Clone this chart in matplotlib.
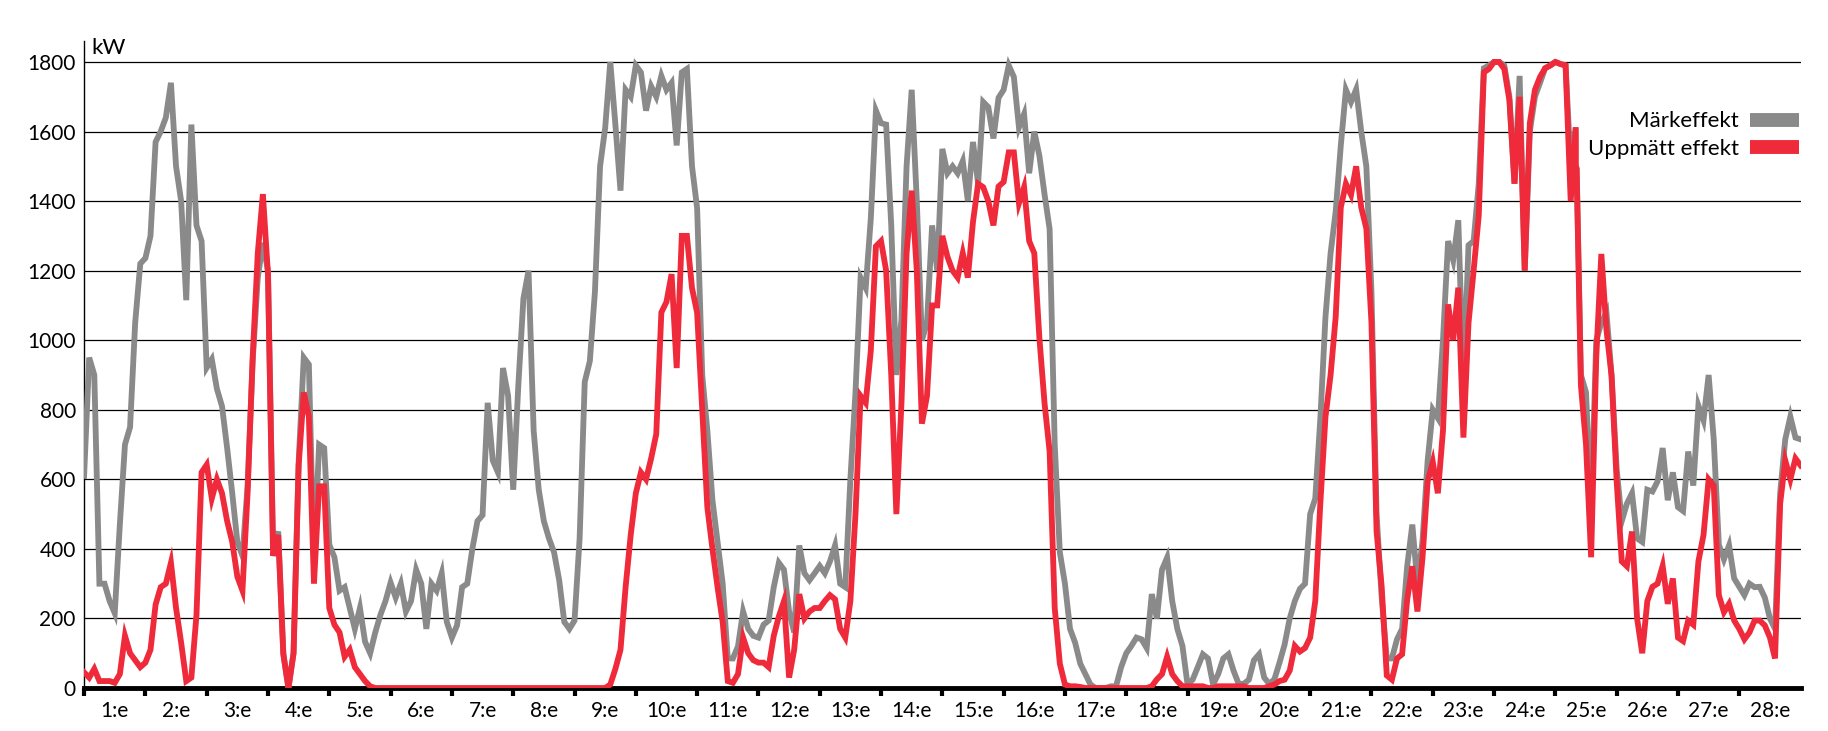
import numpy as np
import matplotlib
matplotlib.use('Agg')
import matplotlib.pyplot as plt
from matplotlib.lines import Line2D

plt.rcParams['font.family'] = ['Lato', 'DejaVu Sans']

# 12 readings per day (every 2 hours), 28 days + closing value
maerkeffekt = [
    610, 950, 900, 300, 300, 250, 215, 470, 700, 750, 1050, 1220,
    1236, 1300, 1570, 1600, 1640, 1740, 1500, 1400, 1115, 1620, 1330, 1285,
    921, 945, 860, 810, 690, 560, 420, 380, 580, 940, 1180, 1280,
    1200, 400, 450, 100, 0, 100, 650, 950, 930, 350, 700, 690,
    412, 376, 280, 290, 230, 170, 230, 133, 100, 160, 210, 250,
    303, 260, 300, 220, 250, 340, 300, 170, 300, 280, 330, 190,
    145, 180, 290, 300, 400, 480, 497, 820, 654, 620, 920, 840,
    570, 870, 1120, 1200, 740, 570, 480, 430, 390, 310, 190, 170,
    194, 430, 880, 940, 1140, 1500, 1610, 1800, 1620, 1430, 1720, 1700,
    1790, 1770, 1660, 1730, 1700, 1760, 1720, 1740, 1560, 1770, 1780, 1500,
    1380, 900, 740, 540, 420, 300, 85, 85, 120, 220, 170, 150,
    145, 182, 194, 290, 360, 340, 220, 160, 410, 330, 310, 330,
    351, 330, 364, 410, 300, 290, 600, 850, 1180, 1150, 1350, 1660,
    1624, 1620, 1330, 900, 1060, 1500, 1720, 1400, 1000, 1050, 1330, 1200,
    1550, 1480, 1500, 1480, 1515, 1400, 1570, 1450, 1685, 1670, 1580, 1697,
    1720, 1790, 1757, 1612, 1650, 1480, 1600, 1530, 1420, 1320, 700, 390,
    300, 170, 130, 70, 40, 10, 0, 0, 0, 5, 5, 60,
    100, 121, 145, 140, 115, 270, 200, 340, 375, 250, 170, 121,
    10, 24, 60, 97, 85, 10, 40, 85, 97, 50, 12, 12,
    24, 80, 97, 30, 12, 25, 73, 125, 200, 250, 285, 300,
    500, 545, 776, 1067, 1250, 1370, 1560, 1720, 1685, 1721, 1600, 1500,
    1139, 500, 260, 85, 85, 140, 170, 351, 470, 300, 424, 654,
    800, 776, 1000, 1285, 1230, 1345, 873, 1273, 1285, 1450, 1782, 1790,
    1800, 1800, 1790, 1700, 1450, 1760, 1200, 1600, 1700, 1740, 1782, 1790,
    1800, 1794, 1790, 1500, 1612, 900, 850, 500, 1000, 1050, 1080, 900,
    630, 480, 530, 560, 430, 420, 570, 565, 594, 690, 540, 620,
    520, 509, 680, 582, 812, 770, 900, 715, 412, 370, 410, 315,
    291, 267, 300, 290, 291, 260, 200, 170, 560, 715, 780, 720,
    715,
]

uppmatt = [
    45, 30, 55, 20, 20, 20, 15, 40, 150, 100, 80, 60,
    73, 110, 240, 290, 300, 360, 230, 130, 20, 30, 210, 620,
    642, 545, 600, 560, 480, 420, 320, 280, 560, 950, 1250, 1420,
    1188, 380, 440, 97, 0, 100, 640, 850, 780, 300, 580, 580,
    230, 182, 160, 90, 110, 60, 40, 20, 5, 0, 0, 0,
    0, 0, 0, 0, 0, 0, 0, 0, 0, 0, 0, 0,
    0, 0, 0, 0, 0, 0, 0, 0, 0, 0, 0, 0,
    0, 0, 0, 0, 0, 0, 0, 0, 0, 0, 0, 0,
    0, 0, 0, 0, 0, 0, 0, 10, 55, 110, 290, 440,
    560, 620, 600, 660, 730, 1080, 1110, 1190, 920, 1300, 1300, 1150,
    1079, 800, 520, 400, 290, 190, 20, 15, 40, 145, 100, 80,
    73, 73, 60, 150, 206, 250, 30, 110, 270, 200, 220, 230,
    230, 250, 267, 255, 170, 145, 250, 500, 840, 820, 970, 1270,
    1285, 1200, 900, 500, 820, 1250, 1430, 1200, 760, 840, 1100, 1100,
    1300, 1240, 1200, 1180, 1250, 1180, 1340, 1450, 1440, 1400, 1330, 1442,
    1455, 1540, 1540, 1394, 1440, 1285, 1250, 1006, 820, 680, 230, 70,
    10, 5, 5, 3, 0, 0, 0, 0, 0, 0, 0, 0,
    0, 0, 0, 0, 0, 5, 25, 40, 90, 40, 20, 5,
    5, 5, 5, 5, 0, 0, 5, 5, 5, 5, 5, 5,
    0, 0, 0, 0, 5, 10, 20, 24, 50, 121, 105, 115,
    145, 250, 533, 780, 900, 1067, 1382, 1450, 1418, 1500, 1382, 1321,
    1050, 450, 291, 36, 24, 85, 97, 255, 350, 220, 376, 594,
    650, 560, 740, 1103, 1000, 1151, 720, 1050, 1200, 1358, 1770, 1780,
    1800, 1800, 1780, 1690, 1450, 1700, 1200, 1624, 1720, 1757, 1782, 1790,
    1800, 1794, 1790, 1400, 1612, 870, 700, 376, 950, 1248, 1030, 897,
    594, 364, 350, 450, 200, 100, 250, 291, 300, 351, 242, 315,
    145, 135, 194, 182, 364, 440, 600, 582, 267, 218, 242, 194,
    170, 140, 160, 194, 194, 180, 145, 85, 530, 654, 600, 660,
    640,
]

dagar = ['%d:e' % d for d in range(1, 29)]
y_ticks = [0, 200, 400, 600, 800, 1000, 1200, 1400, 1600, 1800]

GRAY = '#8a8a8a'
RED = '#ef2b3b'

fig = plt.figure(figsize=(18.28, 7.31), dpi=100)
ax = fig.add_axes([0.046, 0.0588, 0.939, 0.885])

t = np.arange(len(maerkeffekt)) / 12.0
ax.plot(t, maerkeffekt, color=GRAY, linewidth=4.2, solid_joinstyle='miter', zorder=3)
ax.plot(t, uppmatt, color=RED, linewidth=4.2, solid_joinstyle='miter', zorder=4)

ax.set_xlim(0, 28)
ax.set_ylim(0, 1860)

for v in y_ticks[1:]:
    ax.axhline(v, color='black', linewidth=0.9, zorder=1)

ax.set_yticks(y_ticks)
ax.set_yticklabels([str(v) for v in y_ticks], fontsize=15)
ax.tick_params(axis='y', length=0, pad=6)

ax.set_xticks(np.arange(0, 28))
ax.set_xticklabels([])
ax.set_xticks(np.arange(28) + 0.5, minor=True)
ax.set_xticklabels(dagar, minor=True, fontsize=15)
ax.tick_params(axis='x', which='major', length=6, width=3, direction='out', color='black')
ax.tick_params(axis='x', which='minor', length=0, pad=9)

for s in ['top', 'right']:
    ax.spines[s].set_visible(False)
ax.spines['left'].set_linewidth(1.0)
ax.spines['bottom'].set_linewidth(3.5)
ax.spines['bottom'].set_zorder(2)

fig.text(0.0498, 0.935, 'kW', fontsize=16, ha='left', va='center')

handles = [Line2D([], [], color=GRAY, linewidth=10, solid_capstyle='butt'),
           Line2D([], [], color=RED, linewidth=10, solid_capstyle='butt')]
leg = ax.legend(handles, ['Märkeffekt', 'Uppmätt effekt'], loc='upper right',
                bbox_to_anchor=(0.995, 0.875), bbox_transform=fig.transFigure,
                markerfirst=False, fontsize=16, handlelength=2.2, handletextpad=0.5,
                labelspacing=0.35, frameon=True, borderpad=0.4)
leg.get_frame().set_facecolor('white')
leg.get_frame().set_edgecolor('white')
leg.get_frame().set_alpha(1)
leg.set_zorder(5)

fig.savefig('out.png', dpi=100)
plt.close(fig)
